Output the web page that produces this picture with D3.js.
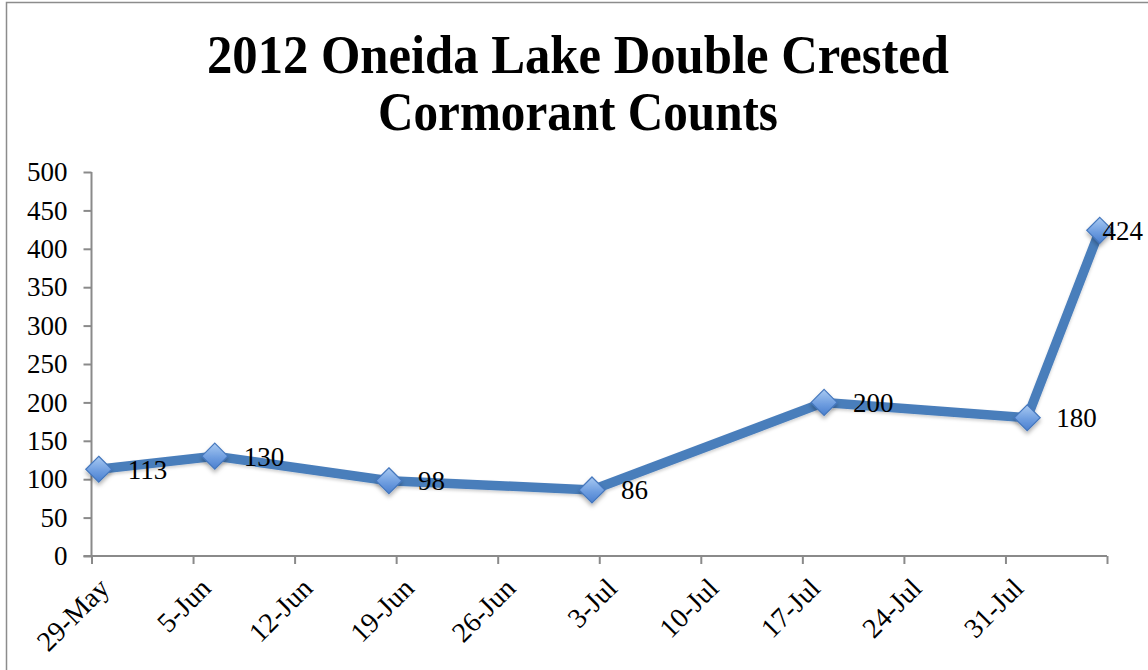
<!DOCTYPE html>
<html>
<head>
<meta charset="utf-8">
<script src="https://cdn.jsdelivr.net/npm/d3@7"></script>
<style>
  html, body { margin: 0; padding: 0; background: #fff; }
  svg { display: block; }
</style>
</head>
<body>
<svg id="chart" width="1148" height="670"></svg>
<script>
// Survey dates and cormorant counts
const surveyDates = ["2012-05-29", "2012-06-06", "2012-06-18", "2012-07-02", "2012-07-18", "2012-08-01", "2012-08-06"];
const counts = [113, 130, 98, 86, 200, 180, 424];

// Axis ticks
const weekTicks = ["2012-05-29", "2012-06-05", "2012-06-12", "2012-06-19", "2012-06-26", "2012-07-03", "2012-07-10", "2012-07-17", "2012-07-24", "2012-07-31", "2012-08-07"];
const weekLabels = ["29-May", "5-Jun", "12-Jun", "19-Jun", "26-Jun", "3-Jul", "10-Jul", "17-Jul", "24-Jul", "31-Jul", ""];
const yTicks = [0, 50, 100, 150, 200, 250, 300, 350, 400, 450, 500];

const titleLines = ["2012 Oneida Lake Double Crested", "Cormorant Counts"];

const W = 1148, H = 670;
const plot = { left: 91.5, right: 1107, top: 172, bottom: 556 };
const font = "'Liberation Serif', 'Times New Roman', serif";
const axisColor = "#8a8a8a";
const lineColor = "#4a7ebb";

const parse = d3.utcParse("%Y-%m-%d");
const svg = d3.select("#chart");

const x = d3.scaleUtc()
  .domain([parse(weekTicks[0]), parse(weekTicks[weekTicks.length - 1])])
  .range([plot.left, plot.right]);
const y = d3.scaleLinear().domain([0, 500]).range([plot.bottom, plot.top]);

// Points sit in the middle of their day
const halfDay = 12 * 3600 * 1000;
const data = surveyDates.map((d, i) => ({ date: new Date(parse(d).getTime() + halfDay), value: counts[i] }));

const defs = svg.append("defs");
const grad = defs.append("linearGradient")
  .attr("id", "markerFill").attr("x1", 0).attr("y1", 0).attr("x2", 0).attr("y2", 1);
grad.append("stop").attr("offset", "0%").attr("stop-color", "#a9caf2");
grad.append("stop").attr("offset", "55%").attr("stop-color", "#6f9ee0");
grad.append("stop").attr("offset", "100%").attr("stop-color", "#4a7fcf");

const shadow = defs.append("filter").attr("id", "shadow")
  .attr("x", "-30%").attr("y", "-30%").attr("width", "160%").attr("height", "180%");
shadow.append("feDropShadow").attr("dx", 0).attr("dy", 3).attr("stdDeviation", 2.2)
  .attr("flood-color", "#000").attr("flood-opacity", 0.3);

const lineShadow = defs.append("filter").attr("id", "lineShadow")
  .attr("x", "-5%").attr("y", "-20%").attr("width", "110%").attr("height", "140%");
lineShadow.append("feDropShadow").attr("dx", 0).attr("dy", 2).attr("stdDeviation", 1.5)
  .attr("flood-color", "#000").attr("flood-opacity", 0.18);

// Chart frame
svg.append("rect")
  .attr("x", 6.5).attr("y", 2.5).attr("width", W + 20).attr("height", H + 20)
  .attr("fill", "none").attr("stroke", "#8c8c8c").attr("stroke-width", 1.5);

// Title
const title = svg.append("g").attr("font-family", font).attr("font-weight", "bold")
  .attr("font-size", 54).attr("fill", "#000").attr("text-anchor", "middle");
title.append("text").attr("x", 578).attr("y", 73)
  .attr("textLength", 742).attr("lengthAdjust", "spacingAndGlyphs").text(titleLines[0]);
title.append("text").attr("x", 578).attr("y", 130)
  .attr("textLength", 400).attr("lengthAdjust", "spacingAndGlyphs").text(titleLines[1]);

// Y axis
const yAxis = svg.append("g").attr("transform", `translate(${plot.left},0)`)
  .call(d3.axisLeft(y).tickValues(yTicks).tickSize(8).tickPadding(16).tickFormat(d3.format("d")));
yAxis.select(".domain").attr("stroke", axisColor).attr("stroke-width", 2)
  .attr("d", `M0,${plot.top}V${plot.bottom}`);
yAxis.selectAll(".tick line").attr("stroke", axisColor).attr("stroke-width", 2);
yAxis.selectAll(".tick text").attr("font-family", font).attr("font-size", 27).attr("fill", "#000");

// X axis
const xAxis = svg.append("g").attr("transform", `translate(0,${plot.bottom})`)
  .call(d3.axisBottom(x).tickValues(weekTicks.map(parse)).tickSize(8)
    .tickFormat((d, i) => weekLabels[i]));
xAxis.select(".domain").attr("stroke", axisColor).attr("stroke-width", 2)
  .attr("d", `M${plot.left - 8},0H${plot.right}`);
xAxis.selectAll(".tick line").attr("stroke", axisColor).attr("stroke-width", 2);
xAxis.selectAll(".tick text")
  .attr("font-family", font).attr("font-size", 28).attr("fill", "#000")
  .attr("text-anchor", "end")
  .attr("x", 0).attr("y", 0).attr("dy", "0.35em")
  .attr("transform", "translate(12,27) rotate(-45)");

// Series line
const line = d3.line().x(d => x(d.date)).y(d => y(d.value));
svg.append("path").datum(data)
  .attr("d", line)
  .attr("fill", "none").attr("stroke", lineColor).attr("stroke-width", 9.5)
  .attr("stroke-linejoin", "round").attr("stroke-linecap", "round")
  .attr("filter", "url(#lineShadow)");

// Diamond markers
const diamond = d3.symbol().type(d3.symbolDiamond2).size(430);
svg.append("g").selectAll("path").data(data).join("path")
  .attr("d", diamond)
  .attr("transform", d => `translate(${x(d.date)},${y(d.value)})`)
  .attr("fill", "url(#markerFill)").attr("stroke", "#4577bd").attr("stroke-width", 1.2)
  .attr("filter", "url(#shadow)");

// Value labels, to the right of each marker, kept inside the chart
const labels = svg.append("g").attr("font-family", font).attr("font-size", 27).attr("fill", "#000");
labels.selectAll("text").data(data).join("text")
  .attr("x", d => x(d.date) + 29)
  .attr("y", d => y(d.value))
  .attr("dy", "0.35em")
  .text(d => d.value)
  .each(function () {
    const t = d3.select(this);
    const w = this.getComputedTextLength();
    const maxRight = W - 5;
    if (+t.attr("x") + w > maxRight) t.attr("x", maxRight - w);
  });
</script>
</body>
</html>
